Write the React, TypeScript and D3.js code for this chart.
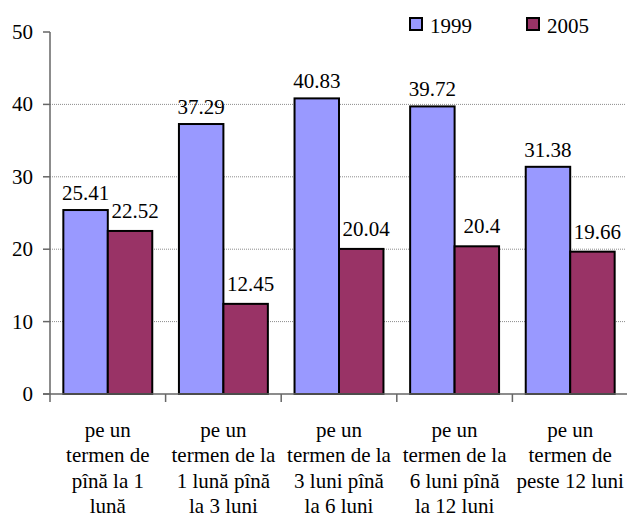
import React from "react"
import * as d3 from "d3"

const categories = [
  ["pe un", "termen de", "pînă la 1", "lună"],
  ["pe un", "termen de la", "1 lună pînă", "la 3 luni"],
  ["pe un", "termen de la", "3 luni pînă", "la 6 luni"],
  ["pe un", "termen de la", "6 luni pînă", "la 12 luni"],
  ["pe un", "termen de", "peste 12 luni"],
]
const seriesNames = ["1999", "2005"]
const values1999 = [25.41, 37.29, 40.83, 39.72, 31.38]
const values2005 = [22.52, 12.45, 20.04, 20.4, 19.66]
const yTicks = [0, 10, 20, 30, 40, 50]

const colors = ["#9999ff", "#993366"]
const txt = { fontFamily: "Liberation Serif", fontSize: "21px" }

const App: React.FC = () => {
  const width = 627
  const height = 519
  const left = 50
  const right = 628
  const top = 32
  const bottom = 394

  const x = d3
    .scaleBand<number>()
    .domain(categories.map((_, i) => i))
    .range([left, right])
    .padding(0)

  const inner = d3
    .scaleBand<number>()
    .domain([0, 1])
    .range([0, x.bandwidth()])
    .paddingInner(0)
    .paddingOuter(0.3)

  const y = d3.scaleLinear().domain([0, 50]).range([bottom, top])

  const series = [values1999, values2005]

  return (
    <svg
      width={width}
      height={height}
      style={{ position: "absolute", left: 0, top: 0, background: "#fff" }}
    >
      {/* gridlines */}
      {yTicks
        .filter((t) => t > 0 && t < 50)
        .map((t) => (
          <line
            key={"g" + t}
            x1={left}
            x2={625}
            y1={y(t)}
            y2={y(t)}
            stroke="#8c8c8c"
            strokeWidth={1}
            strokeDasharray="1,1"
          />
        ))}

      {/* bars */}
      {series.map((vals, s) =>
        vals.map((v, i) => (
          <rect
            key={`b${s}-${i}`}
            x={(x(i) ?? 0) + (inner(s) ?? 0)}
            y={y(v)}
            width={inner.bandwidth()}
            height={y(0) - y(v)}
            fill={colors[s]}
            stroke="#000"
            strokeWidth={2}
          />
        )),
      )}

      {/* value labels */}
      {series.map((vals, s) =>
        vals.map((v, i) => (
          <text
            key={`l${s}-${i}`}
            x={(x(i) ?? 0) + (inner(s) ?? 0) + inner.bandwidth() / 2 + (s === 1 ? 5 : 0)}
            y={y(v) - (s === 1 ? 13 : 10)}
            textAnchor="middle"
            style={txt}
            fill="#000"
          >
            {String(v)}
          </text>
        )),
      )}

      {/* y axis */}
      <line x1={left} x2={left} y1={top} y2={bottom} stroke="#666" strokeWidth={1.5} />
      {yTicks.map((t) => (
        <g key={"t" + t}>
          <line x1={left - 7} x2={left} y1={y(t)} y2={y(t)} stroke="#666" strokeWidth={1.5} />
          <text x={33} y={y(t) + 7} textAnchor="end" style={txt} fill="#000">
            {t}
          </text>
        </g>
      ))}

      {/* x axis */}
      <line x1={left - 7} x2={right} y1={bottom} y2={bottom} stroke="#666" strokeWidth={1.5} />
      {categories.map((_, i) => (
        <line
          key={"xt" + i}
          x1={x(i) ?? 0}
          x2={x(i) ?? 0}
          y1={bottom}
          y2={bottom + 8}
          stroke="#666"
          strokeWidth={1.5}
        />
      ))}
      {categories.map((lines, i) => (
        <text
          key={"c" + i}
          x={(x(i) ?? 0) + x.bandwidth() / 2}
          y={437}
          textAnchor="middle"
          style={txt}
          fill="#000"
        >
          {lines.map((ln, j) => (
            <tspan key={j} x={(x(i) ?? 0) + x.bandwidth() / 2} dy={j === 0 ? 0 : 25.3}>
              {ln}
            </tspan>
          ))}
        </text>
      ))}

      {/* legend */}
      {seriesNames.map((name, s) => (
        <g key={"lg" + s} transform={`translate(${410 + s * 117},18)`}>
          <rect x={0} y={0} width={12} height={12} fill={colors[s]} stroke="#000" strokeWidth={2} />
          <text x={20} y={15} style={txt} fill="#000">
            {name}
          </text>
        </g>
      ))}
    </svg>
  )
}

export default App
